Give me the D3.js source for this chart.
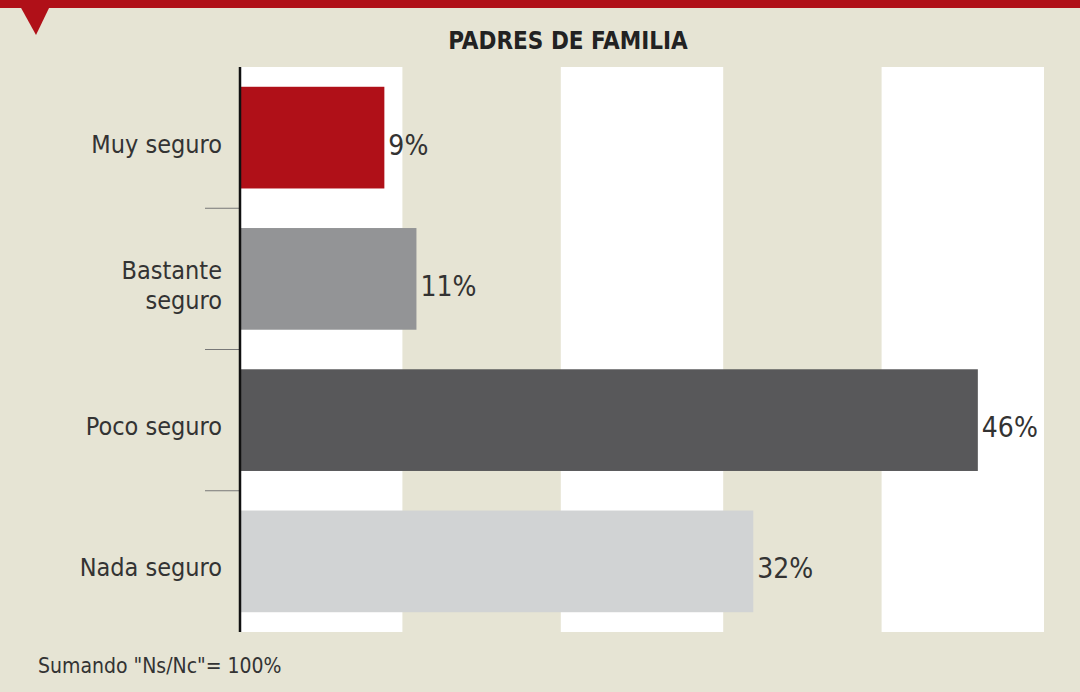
<!DOCTYPE html>
<html>
<head>
<meta charset="utf-8">
<script src="https://cdn.jsdelivr.net/npm/d3@7"></script>
<style>
  body { margin: 0; background: #e6e4d4; }
  svg { display: block; }
</style>
</head>
<body>
<div id="chart"></div>
<script>
// Data
const categories = ["Muy seguro", "Bastante seguro", "Poco seguro", "Nada seguro"];
const values = [9, 11, 46, 32];
const barColors = ["#b01018", "#939496", "#58585a", "#d1d3d4"];
const stripeStarts = [0, 20, 40]; // white bands, each 10 points wide

const width = 1080;
const height = 692;
const font = "'Liberation Sans Narrow', 'DejaVu Sans Condensed', sans-serif";

const svg = d3.select("#chart")
  .append("svg")
  .attr("width", width)
  .attr("height", height);

// background
svg.append("rect")
  .attr("width", width)
  .attr("height", height)
  .attr("fill", "#e6e4d4");

// red band on top + triangle marker
svg.append("rect")
  .attr("x", 0).attr("y", 0)
  .attr("width", width).attr("height", 8)
  .attr("fill", "#b01018");
svg.append("path")
  .attr("d", "M20,6 L50,6 L36,35 Z")
  .attr("fill", "#b01018");

// scales
const x = d3.scaleLinear().domain([0, 50]).range([240, 1042]);
const y = d3.scaleBand()
  .domain(categories)
  .range([67, 632])
  .paddingInner(0.28)
  .paddingOuter(0.14);

// white stripes
svg.selectAll(".stripe")
  .data(stripeStarts)
  .enter()
  .append("rect")
  .attr("class", "stripe")
  .attr("x", d => x(d))
  .attr("y", 67)
  .attr("width", d => x(d + 10) - x(d) + 2)
  .attr("height", 632 - 67)
  .attr("fill", "#ffffff");

// title
svg.append("text")
  .attr("x", 568)
  .attr("y", 49)
  .attr("text-anchor", "middle")
  .style("font-family", font)
  .style("font-size", "24px")
  .style("font-weight", "bold")
  .style("fill", "#222")
  .text("PADRES DE FAMILIA");

// bars
svg.selectAll(".bar")
  .data(categories)
  .enter()
  .append("rect")
  .attr("class", "bar")
  .attr("x", x(0))
  .attr("y", d => y(d))
  .attr("width", (d, i) => x(values[i]) - x(0))
  .attr("height", y.bandwidth())
  .attr("fill", (d, i) => barColors[i]);

// value labels
svg.selectAll(".value")
  .data(categories)
  .enter()
  .append("text")
  .attr("class", "value")
  .attr("x", (d, i) => x(values[i]) + 4)
  .attr("y", d => y(d) + y.bandwidth() / 2 + 17)
  .style("font-family", font)
  .style("font-size", "28px")
  .style("fill", "#333")
  .text((d, i) => values[i] + "%");

// separators between categories
const step = y.step();
svg.selectAll(".sep")
  .data(categories.slice(1))
  .enter()
  .append("line")
  .attr("class", "sep")
  .attr("x1", 205)
  .attr("x2", 240)
  .attr("y1", d => y(d) - (step - y.bandwidth()) / 2)
  .attr("y2", d => y(d) - (step - y.bandwidth()) / 2)
  .attr("stroke", "#777")
  .attr("stroke-width", 1);

// category labels (two-line for Bastante seguro)
const labelLines = {
  "Muy seguro": ["Muy seguro"],
  "Bastante seguro": ["Bastante", "seguro"],
  "Poco seguro": ["Poco seguro"],
  "Nada seguro": ["Nada seguro"]
};
categories.forEach(c => {
  const lines = labelLines[c];
  const cy = y(c) + y.bandwidth() / 2;
  const lh = 30;
  const t = svg.append("text")
    .attr("text-anchor", "end")
    .style("font-family", font)
    .style("font-size", "25px")
    .style("fill", "#333");
  lines.forEach((l, i) => {
    t.append("tspan")
      .attr("x", 222)
      .attr("y", cy + 15 + (i - (lines.length - 1) / 2) * lh)
      .text(l);
  });
});

// axis line
svg.append("line")
  .attr("x1", 240).attr("x2", 240)
  .attr("y1", 67).attr("y2", 632)
  .attr("stroke", "#111")
  .attr("stroke-width", 2.5);

// footnote
svg.append("text")
  .attr("x", 38)
  .attr("y", 673)
  .style("font-family", font)
  .style("font-size", "21px")
  .style("fill", "#333")
  .text("Sumando \"Ns/Nc\"= 100%");
</script>
</body>
</html>
